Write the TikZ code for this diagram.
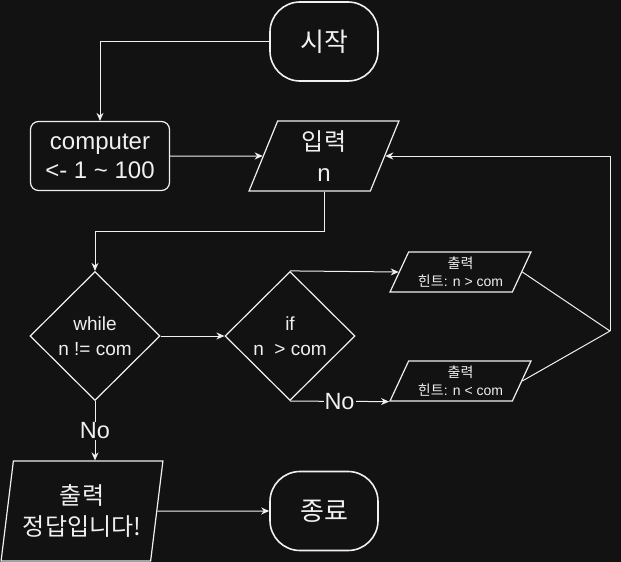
\documentclass[tikz,border=0pt]{standalone}
\usepackage{fontspec}
\setmainfont{Liberation Sans}
\newfontfamily\kr{Noto Sans CJK KR}
\usetikzlibrary{shapes.geometric,arrows.meta,positioning}
\definecolor{bg}{RGB}{18,18,18}
\definecolor{fg}{RGB}{240,240,240}

\begin{document}
\begin{tikzpicture}[x=1pt,y=-1pt,node distance=100pt,on grid,
    base/.style={draw=fg,text=fg,line width=1.2pt,inner sep=0pt,align=center},
    term/.style={base,line width=1.6pt,rectangle,rounded corners=30pt,minimum width=108pt,minimum height=79pt,font=\kr\fontsize{26}{31}\selectfont},
    proc/.style={base,rectangle,rounded corners=8pt,minimum width=139pt,minimum height=69pt,font=\fontsize{24}{29}\selectfont},
    io/.style={base,trapezium,trapezium stretches=true},
    cond/.style={base,diamond,minimum width=130pt,minimum height=129pt,font=\fontsize{19}{25}\selectfont},
    lab/.style={fill=bg,text=fg,inner sep=1pt,font=\fontsize{23.5}{28}\selectfont},
    line/.style={draw=fg,line width=1pt},
    arr/.style={line,-{Stealth[length=8pt,width=7pt]}}]
    \fill[bg] (0,0) rectangle (621,562);
    \node[term] (start) at (324,41.5)                      {시작};
    \node[io,trapezium left angle=75,trapezium right angle=105,minimum width=150pt,minimum height=70pt,
          font=\fontsize{24}{31}\selectfont]
                (input)  [below=114.5pt of start]          {{\kr 입력}\\n};
    \node[proc] (comp)   [left=224pt of input]             {computer\\<- 1 \textasciitilde{} 100};
    \node[cond] (while)  [below=180pt of comp,xshift=-5pt] {while\\n != com};
    \node[cond] (if)     [right=195pt of while]            {if\\n\ \ > com};
    \node[io,trapezium left angle=63.4,trapezium right angle=116.6,minimum width=141pt,minimum height=40pt,
          font=\fontsize{14}{18}\selectfont]
                (hint1)  [above right=64pt and 170.5pt of if] {{\kr 출력}\\{\kr 힌트}: n > com};
    \node[io,trapezium left angle=63.4,trapezium right angle=116.6,minimum width=141pt,minimum height=40pt,
          font=\fontsize{14}{18}\selectfont]
                (hint2)  [below right=45pt and 170.5pt of if] {{\kr 출력}\\{\kr 힌트}: n < com};
    \node[io,trapezium left angle=78.7,trapezium right angle=101.3,minimum width=162pt,minimum height=100pt,
          font=\kr\fontsize{24}{31}\selectfont]
                (out)    [below=175pt of while,xshift=-13pt] {출력\\정답입니다!};
    \node[term] (stop)   [below=355pt of input]            {종료};
    \coordinate (back) at (610,331);
    \coordinate (outtop) at (while.south |- out.north);
    % start and input
    \draw[arr] (start.west) -| (comp.north);
    \draw[arr] (input.south) -- ++(0,40) -| (while.north);
    \path
    (comp)  edge[arr] (input)
    (while) edge[arr] (if)
    (out)   edge[arr] (stop)
    % hint edges
    (if.north) edge[arr] (hint1.west)
    (if.south) edge[arr] node[lab] {No} (hint2.bottom left corner)
    % while ends
    (while.south) edge[arr] node[lab] {No} (outtop);
    % back to input
    \draw[line] (hint1.east) -- (back);
    \draw[line] (hint2.east) -- (back);
    \draw[arr] (back) |- (input.east);
\end{tikzpicture}
\end{document}
